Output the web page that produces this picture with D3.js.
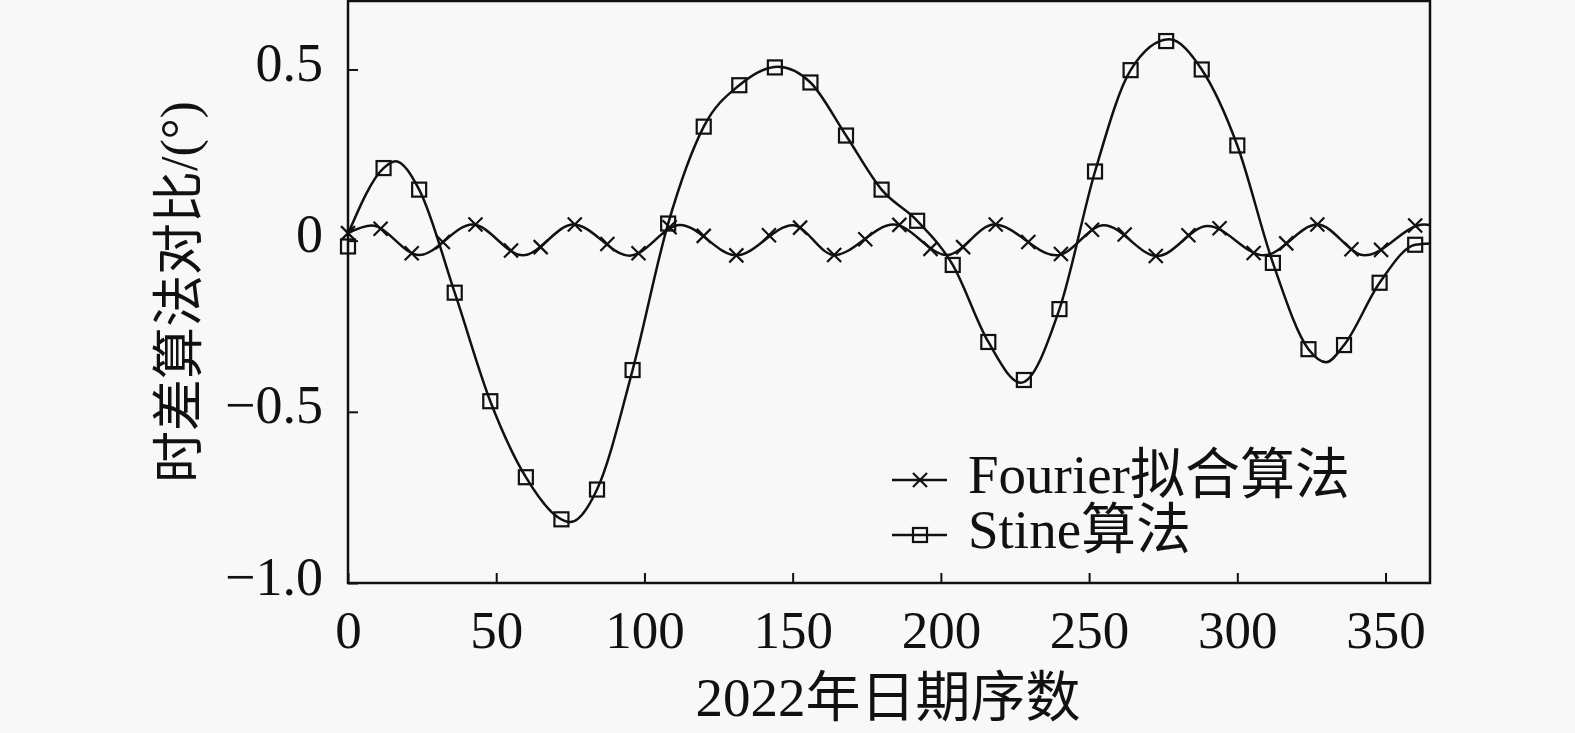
<!DOCTYPE html>
<html>
<head>
<meta charset="utf-8">
<script src="https://cdn.jsdelivr.net/npm/d3@7"></script>
<style>
  html, body { margin: 0; padding: 0; background: #f8f8f8; }
  svg { display: block; }
</style>
</head>
<body>
<svg id="chart" width="1575" height="733"></svg>
<script>
// ---------------- data ----------------
const xTicks = [0, 50, 100, 150, 200, 250, 300, 350];
const yTicks = [-1.0, -0.5, 0, 0.5];
const xTitle = "2022年日期序数";
const yTitle = "时差算法对比/(°)";
const seriesNames = ["Fourier拟合算法", "Stine算法"];

// Fourier fit curve (day, value) and its cross markers
const fourierLineDays = [0, 8, 24, 42, 59, 76, 95, 112, 131, 150, 164, 184, 202, 218, 239, 255, 273, 290, 309, 327, 343, 363, 365];
const fourierLineVals = [0.022, 0.044, -0.042, 0.047, -0.043, 0.047, -0.044, 0.046, -0.043, 0.045, -0.042, 0.047, -0.042, 0.047, -0.043, 0.045, -0.045, 0.043, -0.043, 0.047, -0.043, 0.047, 0.046];
const fourierMarkDays = [0, 11, 21.5, 32, 43, 55, 65, 76.5, 87.5, 98, 108.5, 120, 131, 142, 152.5, 164, 174.5, 186, 196.5, 207.5, 218.5, 229.5, 240.5, 251, 262, 272.5, 283.5, 294, 305.5, 316.5, 327, 338.5, 348.5, 360];
const fourierMarkVals = [0.022, 0.035, -0.037, -0.004, 0.047, -0.029, -0.019, 0.047, -0.01, -0.037, 0.039, 0.014, -0.043, 0.016, 0.038, -0.042, 0.004, 0.046, -0.024, -0.019, 0.047, -0.004, -0.039, 0.032, 0.018, -0.045, 0.016, 0.036, -0.036, -0.008, 0.047, -0.025, -0.027, 0.044];

// Stine curve (day, value) and its square markers
const stineLineDays = [0, 12, 16, 24, 36, 48, 60, 72, 75, 84, 96, 108, 120, 132, 145, 156, 168, 180, 192, 204, 216, 227, 240, 252, 264, 277, 288, 300, 312, 324, 330, 336, 348, 360, 365];
const stineLineVals = [0.02, 0.212, 0.232, 0.149, -0.152, -0.469, -0.691, -0.814, -0.822, -0.727, -0.378, 0.05, 0.333, 0.454, 0.508, 0.462, 0.307, 0.149, 0.058, -0.071, -0.296, -0.415, -0.2, 0.202, 0.498, 0.588, 0.5, 0.278, -0.065, -0.317, -0.355, -0.305, -0.123, -0.012, -0.008];
const stineMarkDays = [0, 12, 24, 36, 48, 60, 72, 84, 96, 108, 120, 132, 144, 156, 168, 180, 192, 204, 216, 228, 240, 252, 264, 276, 288, 300, 312, 324, 336, 348, 360];
const stineMarkVals = [-0.017, 0.212, 0.149, -0.152, -0.469, -0.691, -0.814, -0.727, -0.378, 0.05, 0.333, 0.454, 0.506, 0.462, 0.307, 0.149, 0.058, -0.071, -0.296, -0.407, -0.2, 0.202, 0.498, 0.583, 0.5, 0.278, -0.065, -0.317, -0.305, -0.123, -0.012];

// ---------------- drawing ----------------
const FONT = "'Liberation Serif', 'Times New Roman', 'Noto Sans CJK SC', serif";
const svg = d3.select("#chart");
svg.append("rect").attr("width", 1575).attr("height", 733).attr("fill", "#f8f8f8");

const L = 348, R = 1430, T = 1, B = 583;
const x = d3.scaleLinear().domain([0, 365]).range([L, R]);
const y = d3.scaleLinear().domain([-1.0, 0.7]).range([B, T]);

const ink = "#111";

// axes (inward ticks)
const xAxis = d3.axisBottom(x).tickValues(xTicks).tickSizeInner(-10).tickSizeOuter(0).tickFormat(d3.format("d"));
const gx = svg.append("g").attr("transform", `translate(0,${B})`).call(xAxis);
gx.select(".domain").remove();
gx.selectAll(".tick line").attr("stroke", ink).attr("stroke-width", 2);
gx.selectAll(".tick text").attr("y", 65).attr("dy", 0)
  .attr("font-family", FONT).attr("font-size", 53).attr("fill", ink);

const fmtY = d => d === 0 ? "0" : d3.format(".1f")(d);
const yAxis = d3.axisLeft(y).tickValues(yTicks).tickSizeInner(-10).tickSizeOuter(0).tickFormat(fmtY);
const gy = svg.append("g").attr("transform", `translate(${L},0)`).call(yAxis);
gy.select(".domain").remove();
gy.selectAll(".tick line").attr("stroke", ink).attr("stroke-width", 2);
gy.selectAll(".tick text").attr("x", -25).attr("dy", 11)
  .attr("font-family", FONT).attr("font-size", 54).attr("fill", ink).attr("text-anchor", "end");

// frame
svg.append("rect").attr("x", L).attr("y", T).attr("width", R - L).attr("height", B - T)
  .attr("fill", "none").attr("stroke", ink).attr("stroke-width", 2.5);

// axis titles
svg.append("text").attr("x", (L + R) / 2 - 1).attr("y", 716).attr("text-anchor", "middle")
  .attr("font-family", FONT).attr("font-size", 55).attr("fill", ink).text(xTitle);
svg.append("text").attr("transform", `translate(197,${(T + B) / 2}) rotate(-90)`).attr("text-anchor", "middle")
  .attr("font-family", FONT).attr("font-size", 52).attr("fill", ink).text(yTitle);

// lines
const line = d3.line().x(d => x(d[0])).y(d => y(d[1])).curve(d3.curveMonotoneX);
const fourierLine = fourierLineDays.map((d, i) => [d, fourierLineVals[i]]);
const stineLine = stineLineDays.map((d, i) => [d, stineLineVals[i]]);
const plot = svg.append("g");
plot.append("path").datum(stineLine).attr("d", line).attr("fill", "none").attr("stroke", ink).attr("stroke-width", 2.5);
plot.append("path").datum(fourierLine).attr("d", line).attr("fill", "none").attr("stroke", ink).attr("stroke-width", 2.5);

// markers
const cs = 7;
function cross(g, cx, cy) {
  g.append("path").attr("d", `M${cx - cs},${cy - cs}L${cx + cs},${cy + cs}M${cx - cs},${cy + cs}L${cx + cs},${cy - cs}`)
    .attr("stroke", ink).attr("stroke-width", 2.2).attr("fill", "none");
}
const sq = 14;
function square(g, cx, cy) {
  g.append("rect").attr("x", cx - sq / 2).attr("y", cy - sq / 2).attr("width", sq).attr("height", sq)
    .attr("fill", "none").attr("stroke", ink).attr("stroke-width", 2.2);
}
const fm = plot.append("g");
fourierMarkDays.forEach((d, i) => cross(fm, x(d), y(fourierMarkVals[i])));
const sm = plot.append("g");
stineMarkDays.forEach((d, i) => square(sm, x(d), y(stineMarkVals[i])));

// legend
const leg = svg.append("g");
const legY = [480, 535];
legY.forEach((ly, i) => {
  leg.append("line").attr("x1", 892).attr("x2", 947).attr("y1", ly).attr("y2", ly).attr("stroke", ink).attr("stroke-width", 2.5);
  if (i === 0) cross(leg, 920, ly); else square(leg, 920, ly);
  leg.append("text").attr("x", 968).attr("y", ly + 13).attr("font-family", FONT).attr("font-size", 55)
    .attr("fill", ink).text(seriesNames[i]);
});
</script>
</body>
</html>
